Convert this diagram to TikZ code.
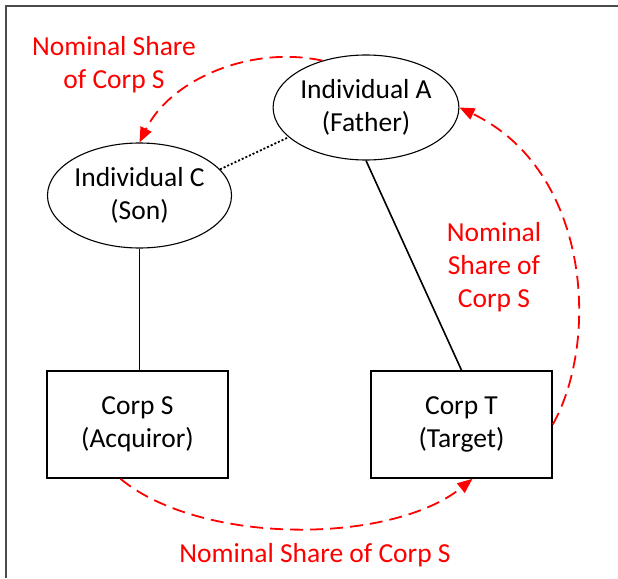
\documentclass[tikz,border=0pt]{standalone}
\usepackage{fontspec}
\setmainfont{Carlito}
\usetikzlibrary{shapes.geometric,arrows.meta}
\tikzset{
  txt/.style={font=\fontsize{27.5}{33}\selectfont, align=center, inner sep=0pt},
  person/.style={txt, ellipse, draw, line width=1.1pt, minimum width=182pt, minimum height=105pt},
  corp/.style={txt, rectangle, draw, line width=1.6pt, minimum width=181pt, minimum height=107pt},
  redlab/.style={txt, text=red},
  flow/.style={red, line width=1.8pt, dash pattern=on 13pt off 7pt, -{Triangle[length=15pt,width=12pt]}},
  link/.style={black, line width=1.6pt},
  frame/.style={black!70, line width=2pt}
}
\begin{document}
\begin{tikzpicture}[x=1pt,y=-1pt]
\useasboundingbox (0,0) rectangle (618,578);
\coordinate (fTL) at (6,6.5);
\coordinate (fTR) at (618,6.5);
\coordinate (fBL) at (6,578);
\draw[frame] (fBL) -- (fTL) -- (fTR);

\node[person] (A) at (366,107.5) {Individual A\\(Father)};
\node[person] (C) at (139.5,195.5) {Individual C\\(Son)};
\node[corp] (S) at (137.5,424.5) {Corp S\\(Acquiror)};
\node[corp] (T) at (461.5,424.5) {Corp T\\(Target)};

\draw[link] (C.south) -- (C.south |- S.north);
\draw[link] (A.south) -- (T.north);
\draw[black, line width=1.8pt, dash pattern=on 2pt off 2pt] (C.18) -- (A.201);

\draw[flow] (A.133) .. controls (250,45) and (170,80) .. (C.north);
\draw[flow] (T.east) .. controls (600,340) and (590,170) .. (A.east);
\draw[flow] ([xshift=-17pt]S.south) .. controls (200,545) and (390,545) .. ([xshift=11pt]T.south);

\node[redlab] (l1) at (114,65) {Nominal Share\\of Corp S};
\node[redlab] (l2) at (494,267) {Nominal\\Share of\\Corp S};
\node[redlab] (l3) at (315,555) {Nominal Share of Corp S};
\end{tikzpicture}
\end{document}
